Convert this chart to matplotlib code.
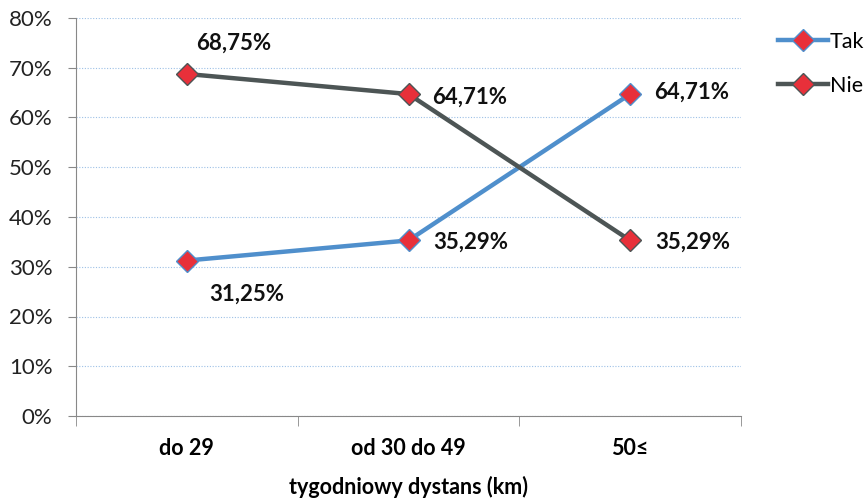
import matplotlib.pyplot as plt
from matplotlib.ticker import MultipleLocator, FuncFormatter

plt.rcParams['font.family'] = ['Lato', 'DejaVu Sans']

kategorie = ['do 29', 'od 30 do 49', '50≤']
tak = [31.25, 35.29, 64.71]
nie = [68.75, 64.71, 35.29]
etykiety_tak = ['31,25%', '35,29%', '64,71%']
etykiety_nie = ['68,75%', '64,71%', '35,29%']

fig = plt.figure(figsize=(8.68, 4.99), dpi=100)
ax = fig.add_axes([76 / 868, 1 - 416 / 499, 665 / 868, 398 / 499])

x = range(len(kategorie))
ax.plot(x, tak, color='#4F8FCC', lw=3.2, marker='D', ms=11.5,
        mfc='#E8303A', mec='#4F8FCC', mew=1.0, label='Tak', zorder=3)
ax.plot(x, nie, color='#4D5555', lw=3.2, marker='D', ms=11.5,
        mfc='#E8303A', mec='#4D5555', mew=1.0, label='Nie', zorder=3)

# etykiety wartosci
lab_kw = dict(fontsize=16, fontweight='bold', color='#111111',
              textcoords='offset points', ha='left', va='center')
ax.annotate(etykiety_tak[0], (0, tak[0]), xytext=(16, -24), **lab_kw)
ax.annotate(etykiety_tak[1], (1, tak[1]), xytext=(18, -1), **lab_kw)
ax.annotate(etykiety_tak[2], (2, tak[2]), xytext=(17, 1), **lab_kw)
ax.annotate(etykiety_nie[0], (0, nie[0]), xytext=(7, 22), **lab_kw)
ax.annotate(etykiety_nie[1], (1, nie[1]), xytext=(17, -2), **lab_kw)
ax.annotate(etykiety_nie[2], (2, nie[2]), xytext=(18, -1), **lab_kw)

ax.set_xlim(-0.5, 2.5)
ax.set_ylim(0, 80)
ax.yaxis.set_major_locator(MultipleLocator(10))
ax.yaxis.set_major_formatter(FuncFormatter(lambda v, p: f'{v:.0f}%'))
ax.grid(axis='y', color='#9DC0E6', ls=(0, (1, 1.5)), lw=0.8)
ax.set_axisbelow(True)

ax.set_xticks(list(x))
ax.set_xticklabels(kategorie, fontsize=15.5, fontweight='bold')
ax.set_xticks([-0.5, 0.5, 1.5, 2.5], minor=True)
ax.tick_params(axis='x', which='major', length=0, pad=16)
ax.tick_params(axis='x', which='minor', length=7, color='#888888')
ax.tick_params(axis='y', length=6, color='#888888', labelsize=16, labelcolor='#222222', pad=11)

for s in ['top', 'right']:
    ax.spines[s].set_visible(False)
for s in ['left', 'bottom']:
    ax.spines[s].set_color('#888888')

ax.set_xlabel('tygodniowy dystans (km)', fontsize=15.5, fontweight='bold', labelpad=12)

fig.legend(loc='upper left', bbox_to_anchor=(778 / 868, 1 - 32 / 499),
           frameon=False, fontsize=15.5, handlelength=2.3, labelspacing=1.1,
           handletextpad=0.1, borderaxespad=0, borderpad=0)

fig.savefig('out.png', dpi=100)
